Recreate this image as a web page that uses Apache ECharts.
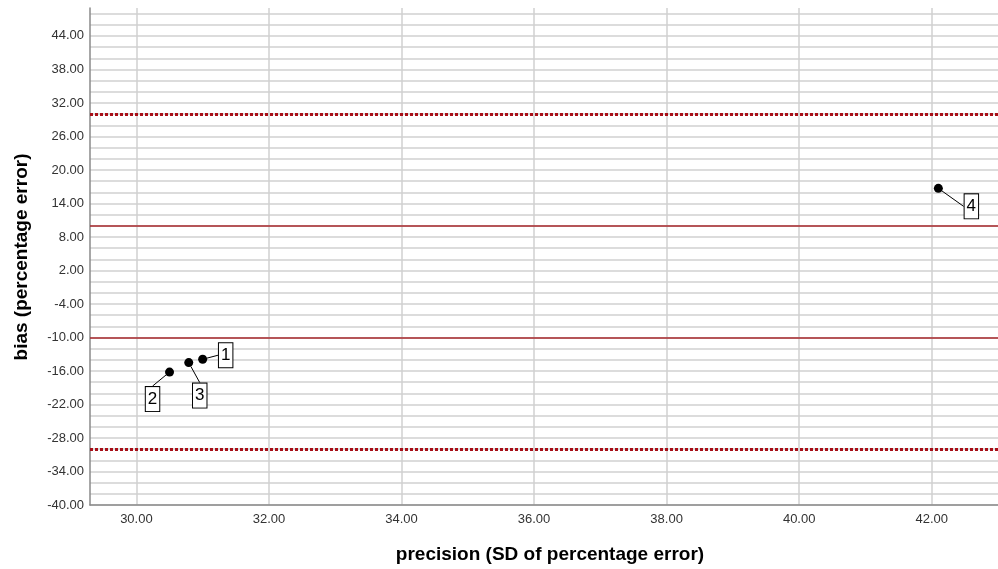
<!DOCTYPE html>
<html>
<head>
<meta charset="utf-8">
<script src="https://cdn.jsdelivr.net/npm/echarts@6/dist/echarts.min.js"></script>
<style>html,body{margin:0;padding:0;background:#fff}#c{width:998px;height:569px}</style>
</head>
<body>
<div id="c"></div>
<script>
// data
const pointIds = ['1', '2', '3', '4'];
const precision = [31.0, 30.5, 30.79, 42.1];
const bias = [-13.9, -16.2, -14.5, 16.7];
const xTickLabels = [30, 32, 34, 36, 38, 40, 42];
const yTickLabels = [-40, -34, -28, -22, -16, -10, -4, 2, 8, 14, 20, 26, 32, 38, 44];
const yGridValues = [-40,-38,-36,-34,-32,-30,-28,-26,-24,-22,-20,-18,-16,-14,-12,-10,-8,-6,-4,-2,0,2,4,6,8,10,12,14,16,18,20,22,24,26,28,30,32,34,36,38,40,42,44,46,48];
const solidRefLines = [10, -10];
const dottedRefLines = [30, -30];
// label placement (offset of label box from its point, px)
const labelOffsets = [[23, -4], [-17, 27], [11, 33], [33, 18]];

const chart = echarts.init(document.getElementById('c'), null, {renderer: 'canvas'});
const FONT = 'Liberation Sans, Arial, sans-serif';
const option = {
  animation: false,
  backgroundColor: '#fff',
  grid: {left: 90, right: 0, top: 8, bottom: 64, containLabel: false},
  xAxis: {
    type: 'value', min: 29.3, max: 43,
    axisLine: {show: true, onZero: false, lineStyle: {color: '#8a8a8a', width: 1.5}},
    axisTick: {show: false, customValues: xTickLabels},
    axisLabel: {customValues: xTickLabels, formatter: v => v.toFixed(2), color: '#333', fontSize: 13, fontFamily: FONT, margin: 8},
    splitLine: {show: true, lineStyle: {color: '#d0d0d0', width: 1.5}}
  },
  yAxis: {
    type: 'value', min: -40, max: 49,
    axisLine: {show: true, onZero: false, lineStyle: {color: '#8a8a8a', width: 1.5}},
    axisTick: {show: false, customValues: yGridValues},
    axisLabel: {customValues: yTickLabels, formatter: v => v.toFixed(2), color: '#333', fontSize: 13, fontFamily: FONT, margin: 6},
    splitLine: {show: true, lineStyle: {color: '#d0d0d0', width: 1.5}}
  },
  graphic: [
    {type: 'text', x: 550, y: 555, style: {text: 'precision (SD of percentage error)', x: 0, y: 0, align: 'center', verticalAlign: 'middle', font: 'bold 19px ' + FONT, fill: '#000'}},
    {type: 'text', x: 22, y: 257, rotation: Math.PI / 2, style: {text: 'bias (percentage error)', x: 0, y: 0, align: 'center', verticalAlign: 'middle', font: 'bold 19px ' + FONT, fill: '#000'}}
  ],
  series: [
    {
      type: 'scatter',
      symbol: 'circle',
      symbolSize: 9,
      itemStyle: {color: '#000', opacity: 1},
      data: precision.map((x, i) => [x, bias[i], pointIds[i]]),
      label: {
        show: true, position: 'inside',
        formatter: p => p.value[2],
        color: '#000', fontSize: 17, fontFamily: FONT,
        backgroundColor: '#fff', borderColor: '#000', borderWidth: 1,
        padding: [4, 2, 3, 2]
      },
      labelLine: {show: true, lineStyle: {color: '#000', width: 1}},
      labelLayout: function (p) {
        const o = labelOffsets[p.dataIndex];
        return {x: p.rect.x + p.rect.width / 2 + o[0], y: p.rect.y + p.rect.height / 2 + o[1], align: 'center', verticalAlign: 'middle'};
      },
      markLine: {
        silent: true, symbol: 'none', label: {show: false},
        data: solidRefLines.map(v => ({yAxis: v, lineStyle: {color: '#a8282c', width: 1.5, type: 'solid'}}))
          .concat(dottedRefLines.map(v => ({yAxis: v, lineStyle: {color: '#a80f18', width: 3, type: [3, 2]}})))
      },
      z: 5
    }
  ]
};
chart.setOption(option);
</script>
</body>
</html>
